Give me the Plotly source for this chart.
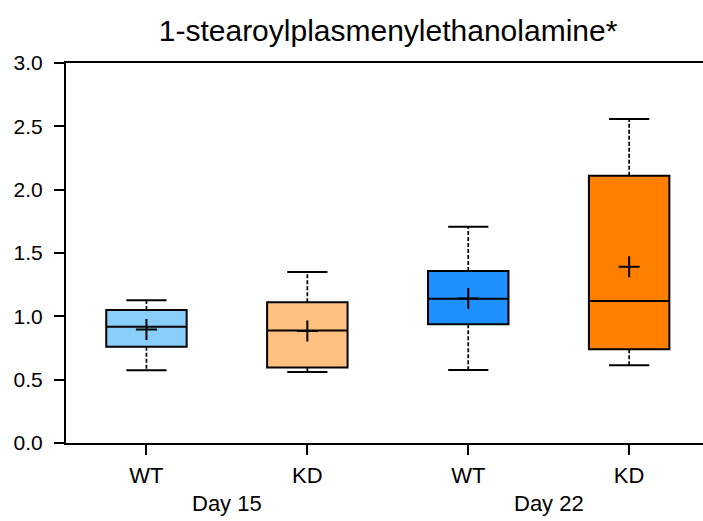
import plotly.graph_objects as go

title = "1-stearoylplasmenylethanolamine*"
groups = ["WT", "KD", "WT", "KD"]
days = ["Day 15", "Day 22"]
q1 = [0.760, 0.597, 0.937, 0.740]
median = [0.918, 0.889, 1.139, 1.121]
q3 = [1.050, 1.111, 1.358, 2.110]
lower = [0.574, 0.560, 0.576, 0.613]
upper = [1.126, 1.350, 1.708, 2.558]
mean = [0.897, 0.885, 1.140, 1.392]
colors = ["#87CEFA", "#FFC080", "#1E90FF", "#FF8000"]

FONT = "Liberation Sans, Arial, Helvetica, sans-serif"
fig = go.Figure()

pos = list(range(len(groups)))
box_w = 0.5
cap_w = 0.25

# dashed whiskers
wx, wy = [], []
cx, cy = [], []
for i in pos:
    wx += [i, i, None, i, i, None]
    wy += [q3[i], upper[i], None, q1[i], lower[i], None]
    cx += [i - cap_w / 2, i + cap_w / 2, None, i - cap_w / 2, i + cap_w / 2, None]
    cy += [upper[i], upper[i], None, lower[i], lower[i], None]
fig.add_trace(go.Scatter(x=wx, y=wy, mode="lines", line=dict(color="black", width=1.7, dash="4px,2px"),
                         hoverinfo="skip", showlegend=False))
fig.add_trace(go.Scatter(x=cx, y=cy, mode="lines", line=dict(color="black", width=2),
                         hoverinfo="skip", showlegend=False))

for i in pos:
    fig.add_trace(go.Box(x=[i], q1=[q1[i]], median=[median[i]], q3=[q3[i]],
                         lowerfence=[q1[i]], upperfence=[q3[i]], width=box_w,
                         fillcolor=colors[i], line=dict(color="black", width=2),
                         boxpoints=False, showlegend=False, whiskerwidth=0))

fig.add_trace(go.Scatter(x=pos, y=mean, mode="markers",
                         marker=dict(symbol="cross-thin", size=15, line=dict(color="black", width=2)),
                         showlegend=False))

for k, d in enumerate(days):
    fig.add_annotation(x=2 * k + 0.5, y=-0.158, xref="x", yref="paper", text=d, showarrow=False,
                       font=dict(size=22, color="black", family=FONT), yanchor="middle")

fig.update_layout(
    width=703, height=521,
    margin=dict(l=66, r=0, t=63, b=78, autoexpand=False),
    plot_bgcolor="white", paper_bgcolor="white",
    font=dict(family=FONT, color="black"),
    title=dict(text=title, x=0.552, xanchor="center", y=1 - 30 / 521, yanchor="middle",
               font=dict(size=30, color="black", family=FONT)),
    xaxis=dict(range=[-0.5, 3.459], tickvals=pos, ticktext=groups, showline=True, linecolor="black",
               linewidth=2, mirror=True, ticks="outside", ticklen=10, tickwidth=2, tickcolor="black",
               showgrid=False, zeroline=False, tickfont=dict(size=22, color="black"), ticklabelstandoff=2),
    yaxis=dict(range=[0, 3], dtick=0.5, tickformat=".1f", showline=True, linecolor="black", linewidth=2,
               ticks="outside", ticklen=10, tickwidth=2, tickcolor="black", showgrid=False, zeroline=False,
               tickfont=dict(size=21, color="black"), ticklabelstandoff=7),
)

fig.write_html("out.html", config={"displayModeBar": False},
               post_script="document.body.style.margin='0px';")
